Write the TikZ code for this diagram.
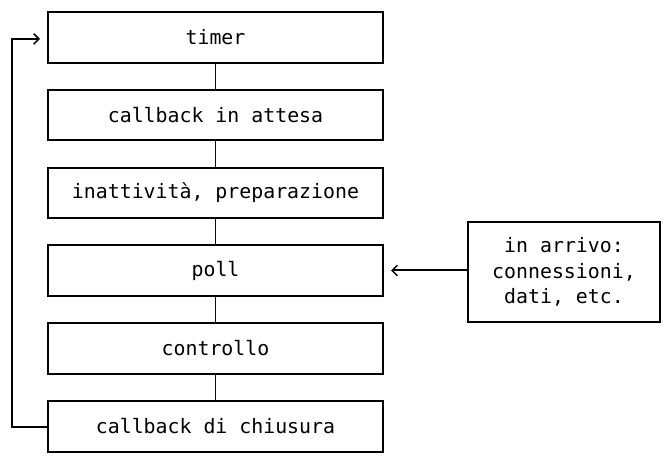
\documentclass[tikz,border=0pt]{standalone}
\usepackage{fontspec}
\setmonofont{DejaVu Sans Mono}
\usepackage{tikz}
\usetikzlibrary{arrows.meta}

\begin{document}
\begin{tikzpicture}[x=0.75pt,y=-0.75pt,
  phase/.style={draw, line width=1.5pt, minimum width=251pt, minimum height=38pt,
    inner sep=0pt, font=\ttfamily\fontsize{14.9}{19}\selectfont},
  link/.style={draw=blue!40!black, line width=0.9pt},
  back/.style={draw, line width=1.5pt, -{Straight Barb[length=4pt,width=8pt,line width=1.1pt]}}]
  \useasboundingbox (0,0) rectangle (671,466);
  \node[phase] (timer) at (215.5,37.5) {timer};
  \node[phase] (attesa) at (215.5,115) {callback in attesa};
  \node[phase] (prep) at (215.5,193) {inattività, preparazione};
  \node[phase] (poll) at (215.5,270.5) {poll};
  \node[phase] (check) at (215.5,348.5) {controllo};
  \node[phase] (close) at (215.5,426.5) {callback di chiusura};
  \node[phase, minimum width=144pt, minimum height=75pt, align=center] (input) at (564,272)
    {in arrivo:\\connessioni,\\dati, etc.};
  \coordinate (polltip) at (391,270.5);
  \coordinate (timertip) at (40,39);
  % Draw the phase links
  \draw[link] (timer) -- (attesa);
  \draw[link] (attesa) -- (prep);
  \draw[link] (prep) -- (poll);
  \draw[link] (poll) -- (check);
  \draw[link] (check) -- (close);
  % Draw the loop and the input
  \draw[back] (close.west) -| (12,39) -- (timertip);
  \draw[back] (input.west |- polltip) -- (polltip);
\end{tikzpicture}
\end{document}
